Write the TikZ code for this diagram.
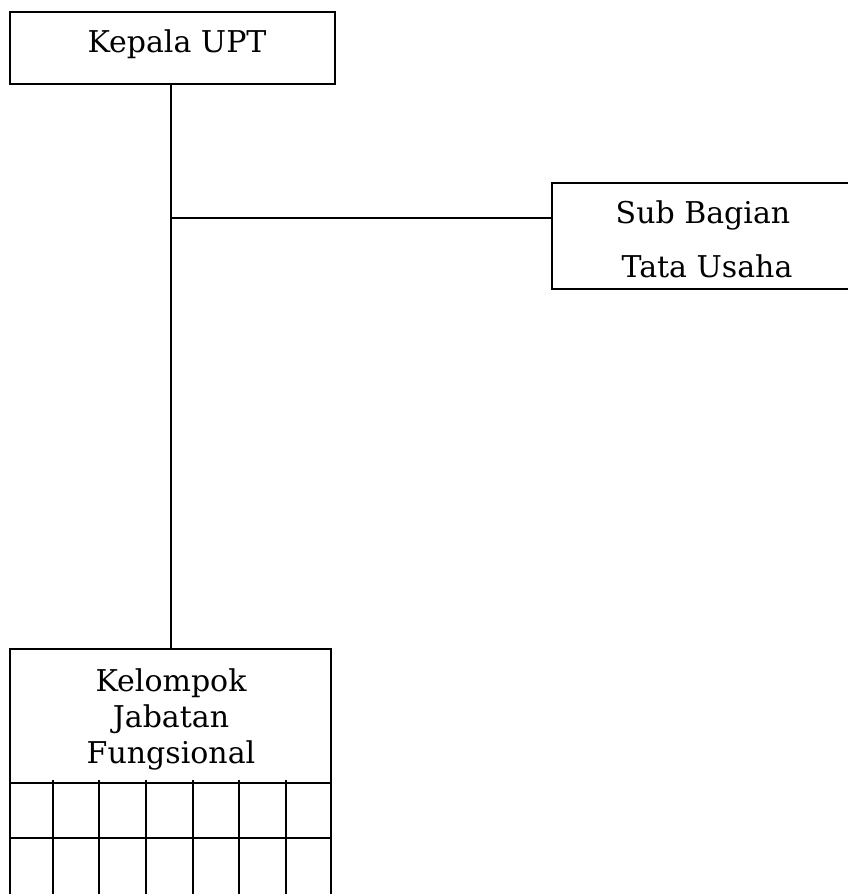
\documentclass[tikz,border=0pt]{standalone}
\usepackage{fontspec}
\setmainfont{DejaVu Serif}
\begin{document}
\begin{tikzpicture}[x=1pt,y=-1pt,
  box/.style={draw=black,line width=2pt,fill=none},
  lbl/.style={font=\fontsize{30}{36}\selectfont,inner sep=0pt},
  ln/.style={line width=2pt}]
\useasboundingbox (0,0) rectangle (848,894);
\clip (0,0) rectangle (848,894);
\fill[white] (0,0) rectangle (848,894);
% boxes
\draw[box] (10,12) rectangle (335,84);
\node[inner sep=0pt,minimum width=325pt,minimum height=72pt] (kepala) at (172.5,48) {};
\node[lbl] (kepalat) at (177,44) {Kepala UPT};
\draw[box] (552,183) rectangle (870,289);
\node[inner sep=0pt,minimum width=318pt,minimum height=106pt] (sub) at (711,236) {};
\node[lbl] (subt1) at (703,215) {Sub Bagian};
\node[lbl] (subt2) at (707,266) {Tata Usaha};
\draw[box] (10,649) rectangle (331,920);
\node[inner sep=0pt,minimum width=321pt,minimum height=271pt] (kel) at (170.5,784.5) {};
\node[lbl] (kt1) at (171,683) {Kelompok};
\node[lbl] (kt2) at (171,719) {Jabatan};
\node[lbl] (kt3) at (171,755) {Fungsional};
% grid
\draw[ln] (10,783) -- (331,783);
\draw[ln] (10,838) -- (331,838);
\foreach \x in {53,99,146,193,239,286} \draw[ln] (\x,780) -- (\x,920);
% connectors
\coordinate (j) at (171,218);
\draw[ln] (j |- kepala.south) -- (j |- kel.north);
\draw[ln] (j) -- (j -| sub.west);
\end{tikzpicture}
\end{document}
